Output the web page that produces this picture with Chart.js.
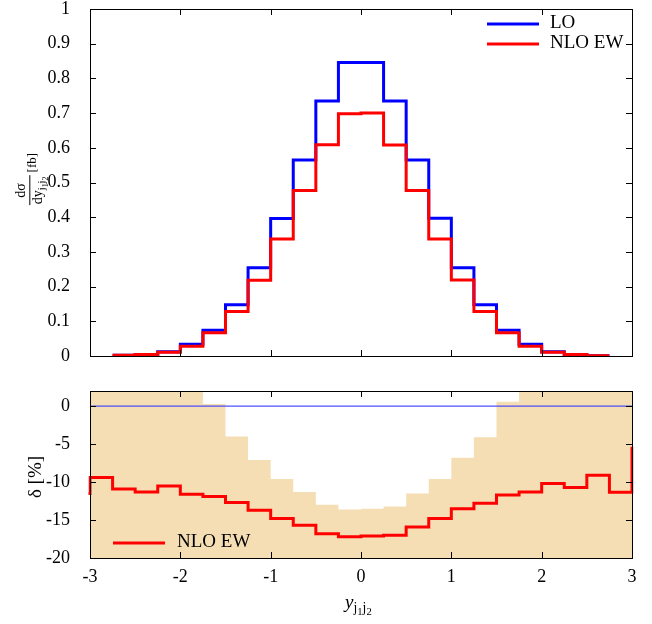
<!DOCTYPE html>
<html>
<head>
<meta charset="utf-8">
<script src="https://cdn.jsdelivr.net/npm/chart.js@4.4.1/dist/chart.umd.min.js"></script>
<style>
  body { margin:0; background:#fff; }
  #wrap { position:relative; width:652px; height:624px; background:#fff; font-family:'Liberation Serif', serif; color:#000; }
  canvas { position:absolute; left:0; }
  .lab { position:absolute; white-space:nowrap; line-height:1; }
  .rot { transform:translate(-50%,-50%) rotate(-90deg); transform-origin:center center; }
  .frac { display:inline-flex; flex-direction:column; align-items:center; vertical-align:middle; font-size:14px; }
  .frac .num { padding:0 1px 1px 1px; }
  .frac .den { border-top:1px solid #000; padding:1px 1px 0 1px; }
  sub { font-size:72%; vertical-align:-0.3em; line-height:0; }
  sub sub { font-size:78%; }
</style>
</head>
<body>
<div id="wrap">
  <canvas id="cTop" width="652" height="370" style="top:0"></canvas>
  <canvas id="cBot" width="652" height="254" style="top:370px"></canvas>
  <div class="lab rot" style="left:30px; top:179px; font-size:13px;">
    <span class="frac"><span class="num">dσ</span><span class="den">dy<sub>j<sub>1</sub>j<sub>2</sub></sub></span></span>&nbsp;<span style="font-size:13px; vertical-align:-3px;">[fb]</span>
  </div>
  <div class="lab rot" style="left:34px; top:477px; font-size:19px;">δ [%]</div>
  <div class="lab" style="left:345px; top:592px; font-size:19px;"><i>y</i><sub>j<sub>1</sub>j<sub>2</sub></sub></div>
</div>
<script>
// ---------- data ----------
const topEdges = [-2.75,-2.5,-2.25,-2,-1.75,-1.5,-1.25,-1,-0.75,-0.5,-0.25,0,0.25,0.5,0.75,1,1.25,1.5,1.75,2,2.25,2.5,2.75];
const loValues  = [0.002,0.004,0.012,0.034,0.074,0.148,0.254,0.396,0.565,0.735,0.846,0.846,0.735,0.565,0.397,0.254,0.148,0.074,0.034,0.012,0.004,0.001];
const nloValues = [0.002,0.004,0.011,0.028,0.067,0.128,0.218,0.337,0.477,0.609,0.698,0.700,0.608,0.477,0.337,0.219,0.128,0.067,0.028,0.011,0.004,0.001];

const deltaEdges = [-3.25,-3,-2.75,-2.5,-2.25,-2,-1.75,-1.5,-1.25,-1,-0.75,-0.5,-0.25,0,0.25,0.5,0.75,1,1.25,1.5,1.75,2,2.25,2.5,2.75,3,3.25];
const deltaNLO   = [-11.5,-9.4,-10.9,-11.3,-10.5,-11.6,-11.9,-12.7,-13.7,-14.8,-15.7,-16.8,-17.2,-17.1,-17.0,-15.9,-14.8,-13.5,-12.8,-11.7,-11.3,-10.2,-10.7,-9.1,-11.35,-5.35];

const bandEdges = [-3,-2.75,-2.5,-2.25,-2,-1.75,-1.5,-1.25,-1,-0.75,-0.5,-0.25,0,0.25,0.5,0.75,1,1.25,1.5,1.75,2,2.25,2.5,2.75,3];
const bandUpper = [3,3,3,3,3,0.3,-4.0,-7.1,-9.6,-11.3,-13.0,-13.6,-13.5,-13.2,-11.5,-9.6,-6.8,-4.1,0.6,3,3,3,3,3];

const zeroLine = [0, 0];
const zeroEdges = [-3, 3];

const xTicks = [-3,-2,-1,0,1,2,3];
const yTicksTop = [0,0.1,0.2,0.3,0.4,0.5,0.6,0.7,0.8,0.9,1];
const yTicksBot = [-20,-15,-10,-5,0];

// ---------- helpers ----------
function steps(edges, vals) {
  const pts = vals.map((v, i) => ({x: edges[i], y: v}));
  pts.push({x: edges[vals.length], y: vals[vals.length - 1]});
  return pts;
}
function setTicks(arr) { return s => { s.ticks = arr.map(v => ({value: v})); }; }
function fmt(v) { return String(Math.round(v * 10) / 10); }
function noPad(s) { s.paddingTop = 0; s.paddingBottom = 0; s.paddingLeft = 0; s.paddingRight = 0; }

Chart.defaults.font.family = "'Liberation Serif', serif";
Chart.defaults.font.size = 18;
Chart.defaults.color = '#000';

const framePlugin = {
  id: 'frame',
  afterDatasetsDraw(chart, args, opts) {
    const ctx = chart.ctx, a = chart.chartArea;
    const xs = chart.scales.x, ys = chart.scales.y;
    const L = 6;
    ctx.save();
    ctx.strokeStyle = '#000';
    ctx.lineWidth = 1;
    ctx.beginPath();
    opts.xTicks.forEach(v => {
      const px = Math.round(xs.getPixelForValue(v)) + 0.5;
      ctx.moveTo(px, a.bottom); ctx.lineTo(px, a.bottom - L);
      ctx.moveTo(px, a.top); ctx.lineTo(px, a.top + L);
    });
    opts.yTicks.forEach(v => {
      const py = Math.round(ys.getPixelForValue(v)) + 0.5;
      ctx.moveTo(a.left, py); ctx.lineTo(a.left + L, py);
      ctx.moveTo(a.right, py); ctx.lineTo(a.right - L, py);
    });
    ctx.stroke();
    ctx.strokeRect(Math.round(a.left) + 0.5, Math.round(a.top) + 0.5, Math.round(a.right - a.left), Math.round(a.bottom - a.top));
    // legend
    const lg = opts.legend;
    ctx.font = "19px 'Liberation Serif', serif";
    ctx.textBaseline = 'middle';
    ctx.textAlign = 'left';
    lg.items.forEach((idx, k) => {
      const ds = chart.data.datasets[idx];
      const y = lg.y + k * lg.dy;
      ctx.strokeStyle = ds.borderColor;
      ctx.lineWidth = 3;
      ctx.beginPath();
      ctx.moveTo(lg.x1, y); ctx.lineTo(lg.x2, y);
      ctx.stroke();
      ctx.fillStyle = '#000';
      ctx.fillText(ds.label, lg.tx, y - 1);
    });
    ctx.restore();
  }
};

// ---------- top chart ----------
new Chart(document.getElementById('cTop'), {
  type: 'line',
  data: {
    datasets: [
      {label: 'LO', data: steps(topEdges, loValues), borderColor: '#0000ff', borderWidth: 3, stepped: 'before', pointRadius: 0, fill: false, order: 2, borderJoinStyle: 'miter'},
      {label: 'NLO EW', data: steps(topEdges, nloValues), borderColor: '#ff0000', borderWidth: 3, stepped: 'before', pointRadius: 0, fill: false, order: 1, borderJoinStyle: 'miter'}
    ]
  },
  options: {
    responsive: false, animation: false, events: [],
    layout: {padding: {left: 0, right: 20, top: 9, bottom: 0}},
    plugins: {
      legend: {display: false}, tooltip: {enabled: false},
      frame: {xTicks: xTicks, yTicks: yTicksTop, legend: {items: [0, 1], x1: 487, x2: 539, tx: 550, y: 24, dy: 20}}
    },
    scales: {
      x: {type: 'linear', min: -3, max: 3, afterBuildTicks: setTicks(xTicks),
          ticks: {display: false}, grid: {display: false}, border: {display: false},
          afterFit: s => { s.height = 14; noPad(s); }},
      y: {type: 'linear', min: 0, max: 1, afterBuildTicks: setTicks(yTicksTop),
          ticks: {padding: 12, callback: v => fmt(v)}, grid: {display: false}, border: {display: false},
          afterFit: s => { s.width = 90; noPad(s); }}
    }
  },
  plugins: [framePlugin]
});

// ---------- bottom chart ----------
new Chart(document.getElementById('cBot'), {
  type: 'line',
  data: {
    datasets: [
      {label: 'NLO EW', data: steps(deltaEdges, deltaNLO), borderColor: '#ff0000', borderWidth: 3, stepped: 'before', pointRadius: 0, fill: false, order: 1, borderJoinStyle: 'miter', clip: 1.5},
      {label: 'LO', data: zeroEdges.map((x, i) => ({x: x, y: zeroLine[i]})), borderColor: 'rgba(60,60,255,0.9)', borderWidth: 1.2, pointRadius: 0, fill: false, order: 2},
      {label: 'band', data: steps(bandEdges, bandUpper), borderColor: 'rgba(0,0,0,0)', borderWidth: 0, backgroundColor: '#f5deb3', stepped: 'before', pointRadius: 0, fill: 'start', order: 3}
    ]
  },
  options: {
    responsive: false, animation: false, events: [],
    layout: {padding: {left: 0, right: 20, top: 21, bottom: 0}},
    plugins: {
      legend: {display: false}, tooltip: {enabled: false},
      frame: {xTicks: xTicks, yTicks: yTicksBot, legend: {items: [0], x1: 113, x2: 165, tx: 177, y: 173, dy: 20}}
    },
    scales: {
      x: {type: 'linear', min: -3, max: 3, afterBuildTicks: setTicks(xTicks),
          ticks: {padding: 0, callback: v => String(v)}, grid: {display: false}, border: {display: false},
          afterFit: s => { s.height = 66; noPad(s); }},
      y: {type: 'linear', min: -20, max: 2, afterBuildTicks: setTicks(yTicksBot),
          ticks: {padding: 12, callback: v => String(v)}, grid: {display: false}, border: {display: false},
          afterFit: s => { s.width = 90; noPad(s); }}
    }
  },
  plugins: [framePlugin]
});
</script>
</body>
</html>
